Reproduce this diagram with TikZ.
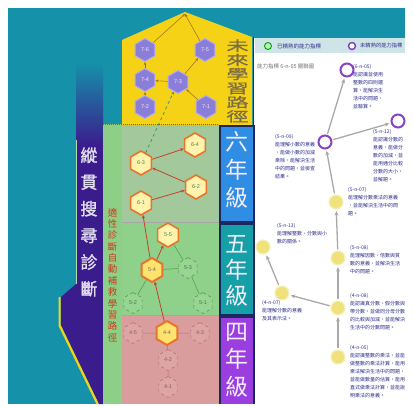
\documentclass[tikz,border=0pt]{standalone}
\usepackage{fontspec}
\setmainfont{Liberation Sans}
\newfontfamily\cjk{Noto Sans CJK TC}
\newfontfamily\cjkb[FakeBold=1.5]{Noto Sans CJK TC}
\newfontfamily\cjkw[FakeStretch=1.65,FakeBold=1]{Noto Sans CJK TC}
\usetikzlibrary{shapes.geometric,arrows.meta}
\definecolor{bgteal}{HTML}{1592AA}
\definecolor{bandpurple}{HTML}{3B1C8C}
\definecolor{stripgreen}{HTML}{8DCF87}
\definecolor{gsix}{HTML}{A2C89C}
\definecolor{gfive}{HTML}{8FD08A}
\definecolor{gfour}{HTML}{DA9D9D}
\definecolor{houseyellow}{HTML}{F6D216}
\definecolor{boxblue}{HTML}{2F8DE4}
\definecolor{boxteal}{HTML}{14A0A6}
\definecolor{boxpurple}{HTML}{9A3EE0}
\definecolor{navy}{HTML}{1C2660}
\definecolor{hexpurple}{HTML}{8A7ED8}
\definecolor{hexpurpleb}{HTML}{B4ACF2}
\definecolor{hexorange}{HTML}{E8742C}
\definecolor{hexcream}{HTML}{FFF3AE}
\definecolor{hexhigh}{HTML}{FFE36E}
\definecolor{pathred}{HTML}{C4422C}
\definecolor{linkbrown}{HTML}{9C6A2E}
\definecolor{fadegreen}{HTML}{4E9A48}
\definecolor{fadepink}{HTML}{B86E6E}
\definecolor{dashteal}{HTML}{3A8A7A}
\definecolor{ringpurple}{HTML}{8444C4}
\definecolor{dotyellow}{HTML}{EFE27C}
\definecolor{dotyellowb}{HTML}{F7F0B8}
\definecolor{linegrey}{HTML}{A9A9A9}
\definecolor{textblue}{HTML}{2E2E8C}
\definecolor{legendbar}{HTML}{CFE4E7}
\definecolor{titleolive}{HTML}{7C6E44}
\definecolor{redtext}{HTML}{CC3A1A}
\begin{document}
\begin{tikzpicture}[x={(1bp,0bp)}, y={(0bp,-1bp)},
  hexbase/.style={regular polygon, regular polygon sides=6, regular polygon rotate=30, inner sep=0pt, font=\fontsize{5.5}{5.5}\selectfont},
  hexp/.style={hexbase, minimum size=23bp, fill=hexpurple, draw=hexpurpleb, line width=1bp, text=white!85!hexpurple},
  hexo/.style={hexbase, minimum size=24bp, fill=hexcream, draw=hexorange, line width=1.6bp, text=green!30!black!70},
  hexh/.style={hexbase, minimum size=24bp, fill=hexhigh, draw=hexorange, line width=2bp, text=black!60},
  hexg/.style={hexbase, minimum size=21bp, fill=gfive!92!white, draw=fadegreen, dashed, line width=0.6bp, text=fadegreen!80!black},
  hexk/.style={hexbase, minimum size=21bp, fill=gfour!92!white, draw=fadepink, dashed, line width=0.6bp, text=fadepink!80!black},
  redarrow/.style={draw=pathred, line width=0.8bp, -{Stealth[length=3.5bp,width=3bp]}},
  brownarrow/.style={draw=linkbrown, line width=0.5bp, -{Stealth[length=3bp,width=2.5bp]}},
  greenlink/.style={draw=fadegreen, line width=0.5bp},
  pinklink/.style={draw=fadepink, line width=0.5bp},
  ring/.style={circle, minimum size=13bp, inner sep=0pt, draw=ringpurple, line width=2bp, fill=white},
  ydot/.style={circle, minimum size=14bp, inner sep=0pt, fill=dotyellow, draw=dotyellowb, line width=1.2bp},
  greyarrow/.style={draw=linegrey, line width=1.3bp, -{Stealth[length=4.5bp,width=4bp]}, shorten >=1.5bp, shorten <=1bp},
  rtext/.style={anchor=north west, align=left, inner sep=0pt, font=\cjk\fontsize{5}{8}\selectfont, text=textblue},
  gradelabel/.style={align=center, inner sep=0pt, text=white!90!boxpurple}
]
\useasboundingbox (0,0) rectangle (413,407);
\clip (0,0) rectangle (413,407);
\fill[white] (0,0) rectangle (413,407);
\fill[bgteal] (8,8) rectangle (405,404);
% right white panel and legend bar
\fill[white] (254,38) rectangle (413,407);
\fill[legendbar] (255,38) rectangle (405,53);
% purple band
\shade[top color=bgteal, bottom color=bandpurple] (76,62) rectangle (103,146);
\fill[bandpurple] (76,145) -- (103,145) -- (103,404) -- (99,404) -- (61,325) -- (61,297) -- (76,284) -- cycle;
\draw[houseyellow, line width=2.2bp] (59.6,297) -- (59.6,325.5) -- (97.6,404);
\draw[stripgreen!70!white, line width=0.8bp] (76.4,140) -- (76.4,284);
% green area and grade regions
\fill[stripgreen] (103,124) rectangle (219,404);
\fill[gsix] (122,126) rectangle (219,222);
\fill[gfive] (122,222) rectangle (219,315);
\fill[gfour] (122,315) rectangle (219,404);
\draw[black!35, line width=0.5bp] (122,222) -- (219,222) (122,315) -- (219,315);
% yellow house
\fill[houseyellow] (122,40) -- (185,12) -- (252,37) -- (252,125) -- (122,125) -- cycle;
\draw[pathred, line width=1bp, dash pattern=on 1bp off 1bp] (103,124.5) -- (219,124.5);
\draw[navy, line width=1.2bp] (253.5,37) -- (253.5,125);
% grade boxes
\fill[navy] (219,125) rectangle (254.5,404);
\fill[boxblue] (220.5,127) rectangle (252.5,221);
\fill[boxteal] (220.5,225) rectangle (252.5,314);
\fill[boxpurple] (220.5,318) rectangle (252.5,404);
\node[gradelabel, font=\cjk\fontsize{23}{28}\selectfont] (g6) at (236.5,170) {六\\年\\級};
\node[gradelabel, font=\cjk\fontsize{23}{26.5}\selectfont] (g5) at (236.5,271) {五\\年\\級};
\node[gradelabel, font=\cjk\fontsize{23}{27.5}\selectfont] (g4) at (236.5,360) {四\\年\\級};
% titles
\node[align=center, inner sep=0pt, text=titleolive, font=\cjkw\fontsize{13.5}{14.2}\selectfont] (future) at (237.5,81) {未\\來\\學\\習\\路\\徑};
\node[align=center, inner sep=0pt, text=white!85!bandpurple, font=\cjkb\fontsize{17}{26.8}\selectfont] (longi) at (89,222) {縱\\貫\\搜\\尋\\診\\斷};
\node[align=center, inner sep=0pt, text=redtext, font=\cjk\fontsize{9.5}{11.4}\selectfont] (adapt) at (112.5,275) {適\\性\\診\\斷\\自\\動\\補\\救\\學\\習\\路\\徑};
% grade 7 (future)
\coordinate (apex) at (185,14);
\node[hexp] (n76) at (145,50) {7-6};
\node[hexp] (n75) at (205,50) {7-5};
\node[hexp] (n74) at (145,80) {7-4};
\node[hexp] (n73) at (178,82) {7-3};
\node[hexp] (n72) at (145,107) {7-2};
\node[hexp] (n71) at (206,107) {7-1};
% grade 6
\node[hexo] (n64) at (195,145) {6-4};
\node[hexo] (n63) at (141,163) {6-3};
\node[hexo] (n62) at (196,187) {6-2};
\node[hexo] (n61) at (141,203) {6-1};
% grade 5
\node[hexo] (n55) at (168,235) {5-5};
\node[hexg] (n53) at (188,268) {5-3};
\node[hexg] (n52) at (133,303) {5-2};
\node[hexg] (n51) at (203,303) {5-1};
% grade 4
\node[hexk] (n45) at (133,333) {4-5};
\node[hexk] (n43) at (200,333) {4-3};
\node[hexk] (n42) at (168,360) {4-2};
\node[hexk] (n41) at (168,387) {4-1};
\draw[greenlink] (n55) -- (n53);
\draw[greenlink] (n53) -- (n51);
\draw[pinklink] (n45) -- (167,333) -- (n43);
\draw[pinklink] (n42) -- (n41);
\node[hexh] (n54) at (152,270) {5-4};
\node[hexh] (n44) at (167,333) {4-4};
\draw[greenlink] (n54) -- (n53);
\draw[greenlink] (n54) -- (n52);
\draw[pinklink] (n44) -- (n42);
% links in the future region
\draw[brownarrow] (n72) -- (n74);
\draw[brownarrow] (n74) -- (n76);
\draw[brownarrow] (n73) -- (n74);
\draw[brownarrow] (n71) -- (n73);
\draw[brownarrow] (n73) -- (n75);
\draw[brownarrow] (n76) -- (apex);
\draw[brownarrow] (n75) -- (apex);
% learning path
\draw[redarrow] (n44) -- (n54);
\draw[redarrow] (n54) -- (n55);
\draw[redarrow] (n54) -- (n61);
\draw[redarrow] (n61) -- (n62);
\draw[redarrow] (n62) -- (n63);
\draw[redarrow] (n63) -- (n64);
\draw[draw=dashteal, line width=0.7bp, dashed, -{Stealth[length=3bp,width=2.5bp]}] (n63) -- (n73);
% legend
\node[circle, minimum size=7bp, inner sep=0pt, fill=green!35!white, draw=green!55!black, line width=0.8bp] (lg1) at (268,46) {};
\node[anchor=west, inner sep=0pt, text=textblue, font=\cjk\fontsize{5.5}{6}\selectfont] (lt1) at (277,46) {已精熟的能力指標};
\node[circle, minimum size=7bp, inner sep=0pt, fill=white, draw=ringpurple, line width=1.5bp] (lg2) at (352,46) {};
\node[anchor=west, inner sep=0pt, text=textblue, font=\cjk\fontsize{5.3}{6}\selectfont] (lt2) at (360,46) {未精熟的能力指標};
\node[anchor=west, inner sep=0pt, text=black!55, font=\cjk\fontsize{5.5}{6}\selectfont] (head) at (257,66) {能力指標 6-n-05 關聯圖};
% concept map nodes
\node[ring] (A) at (347,70) {};
\node[ring] (B) at (398,121) {};
\node[ring] (C) at (325,142) {};
\node[ydot] (D) at (336,202) {};
\node[ydot] (E) at (263,247) {};
\node[ydot] (F) at (338,258) {};
\node[ydot] (G) at (282,293) {};
\node[ydot] (H) at (338,308) {};
\node[ydot] (I) at (338,357) {};
\draw[greyarrow] (C) -- (A);
\draw[greyarrow] (C) -- (B);
\draw[greyarrow] (D) -- (C);
\draw[greyarrow] (F) -- (D);
\draw[greyarrow] (H) -- (F);
\draw[greyarrow] (I) -- (H);
\draw[greyarrow] (H) -- (G);
\draw[greyarrow] (G) -- (E);
% concept texts
\node[rtext] (tA) at (353,64) {(6-n-05)\\能認識並使用\\整數的四則運\\算，能解決生\\活中的問題，\\並驗算。};
\node[rtext] (tB) at (373,129) {(5-n-12)\\能認識分數的\\意義，能做分\\數的加減，並\\能用通分比較\\分數的大小，\\並解題。};
\node[rtext] (tC) at (275,134) {(5-n-09)\\能理解小數的意義\\，能做小數的加減\\乘除，能解決生活\\中的問題，並檢查\\結果。};
\node[rtext] (tD) at (348,187) {(5-n-07)\\能理解分數乘法的意義\\，並能解決生活中的問\\題。};
\node[rtext] (tE) at (277,223) {(5-n-13)\\能理解整數、分數與小\\數的關係。};
\node[rtext] (tF) at (350,245) {(5-n-08)\\能理解因數、倍數與質\\數的意義，並解決生活\\中的問題。};
\node[rtext] (tG) at (262,300) {(4-n-07)\\能理解分數的意義\\及其表示法。};
\node[rtext] (tH) at (350,293) {(4-n-08)\\能認識真分數、假分數與\\帶分數，並做同分母分數\\的比較與加減，並能解決\\生活中的分數問題。};
\node[rtext] (tI) at (350,345) {(4-n-05)\\能認識整數的乘法，並能\\做整數的乘法計算，能用\\乘法解決生活中的問題，\\並能做數量的估算，能用\\直式做乘法計算，並能說\\明乘法的意義。};
\end{tikzpicture}
\end{document}
